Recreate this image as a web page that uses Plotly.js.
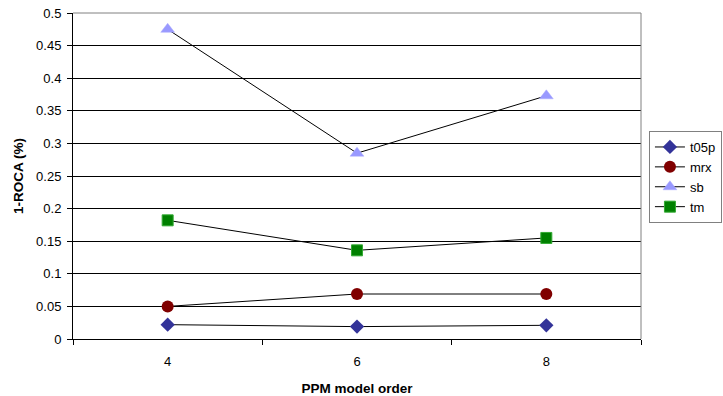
<!DOCTYPE html>
<html>
<head>
<meta charset="utf-8">
<script src="https://cdn.plot.ly/plotly-3.0.1.min.js"></script>
<style>html,body{margin:0;padding:0;background:#fff;}#chart{width:723px;height:396px;}</style>
</head>
<body>
<div id="chart"></div>
<script>
var categories = ['4', '6', '8'];
var t05p = [0.022, 0.019, 0.021];
var mrx = [0.050, 0.069, 0.069];
var sb = [0.475, 0.285, 0.373];
var tm = [0.182, 0.136, 0.155];
var yTickVals = [0, 0.05, 0.1, 0.15, 0.2, 0.25, 0.3, 0.35, 0.4, 0.45, 0.5];
var yTickText = ['0', '0.05', '0.1', '0.15', '0.2', '0.25', '0.3', '0.35', '0.4', '0.45', '0.5'];

var lineStyle = {color: '#000000', width: 1};
var traces = [
  {name: 't05p', x: categories, y: t05p, type: 'scatter', mode: 'lines+markers', line: lineStyle,
   marker: {symbol: 'diamond', size: 11, color: '#333399', line: {color: '#333399', width: 0}}},
  {name: 'mrx', x: categories, y: mrx, type: 'scatter', mode: 'lines+markers', line: lineStyle,
   marker: {symbol: 'circle', size: 12, color: '#800000', line: {color: '#800000', width: 0}}},
  {name: 'sb', x: categories, y: sb, type: 'scatter', mode: 'lines+markers', line: lineStyle,
   marker: {symbol: 'triangle-up', size: 12, color: '#9999FF', line: {color: '#aaaaff', width: 0.5}}},
  {name: 'tm', x: categories, y: tm, type: 'scatter', mode: 'lines+markers', line: lineStyle,
   marker: {symbol: 'square', size: 11, color: '#008000', line: {color: '#33aa33', width: 1}}}
];

var titleFont = {size: 13.5, family: 'Liberation Sans, Arial, sans-serif', weight: 'bold', color: '#000000'};

var layout = {
  width: 723, height: 396,
  margin: {l: 73, r: 82, t: 13, b: 57, pad: 0, autoexpand: false},
  paper_bgcolor: '#ffffff', plot_bgcolor: '#ffffff',
  font: {family: 'Liberation Sans, Arial, sans-serif', size: 13, color: '#000000'},
  showlegend: true,
  legend: {x: 1.014, y: 0.638, xanchor: 'left', yanchor: 'top',
    bordercolor: '#808080', borderwidth: 1, bgcolor: '#ffffff',
    font: {size: 13, family: 'Liberation Sans, Arial, sans-serif'}, tracegroupgap: 0,
    itemwidth: 30},
  xaxis: {
    type: 'category', range: [-0.5, 2.5], tickson: 'boundaries',
    ticks: 'outside', ticklen: 5, tickcolor: '#000000', tickwidth: 1,
    ticklabelstandoff: 10,
    showline: true, linecolor: '#000000', linewidth: 1, showgrid: false, zeroline: false,
    tickfont: {size: 13},
    title: {text: 'PPM model order', font: titleFont, standoff: 16}
  },
  yaxis: {
    range: [0, 0.5], tickvals: yTickVals, ticktext: yTickText,
    ticks: 'outside', ticklen: 5, tickcolor: '#000000', tickwidth: 1,
    ticklabelstandoff: 3,
    showline: true, linecolor: '#000000', linewidth: 1,
    showgrid: true, gridcolor: '#000000', gridwidth: 1, zeroline: false,
    tickfont: {size: 13},
    title: {text: '1-ROCA (%)', font: titleFont, standoff: 9}
  },
  shapes: [
    {type: 'line', xref: 'paper', yref: 'paper', x0: 0, x1: 1, y0: 1, y1: 1, line: {color: '#808080', width: 1}},
    {type: 'line', xref: 'paper', yref: 'paper', x0: 1, x1: 1, y0: 0, y1: 1, line: {color: '#808080', width: 1}}
  ]
};

Plotly.newPlot('chart', traces, layout, {displayModeBar: false, staticPlot: true});
</script>
</body>
</html>
